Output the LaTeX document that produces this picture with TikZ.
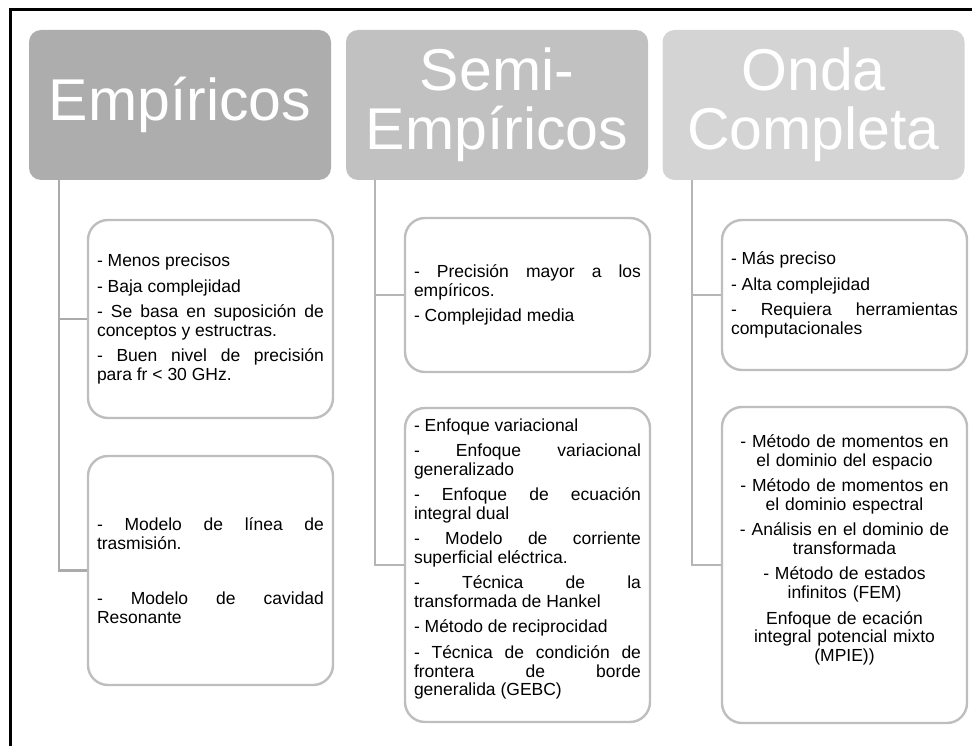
\documentclass[tikz,border=0pt]{standalone}
\usepackage{fontspec}
\setmainfont{Liberation Sans}
\definecolor{hA}{HTML}{ADADAD}
\definecolor{hB}{HTML}{C1C1C1}
\definecolor{hC}{HTML}{D4D4D4}
\definecolor{lnA}{HTML}{ABABAB}
\definecolor{lnB}{HTML}{B5B5B5}
\definecolor{lnC}{HTML}{B5B5B5}
\definecolor{bxline}{HTML}{BEBEBE}
\begin{document}
\begin{tikzpicture}[x=1pt,y=-1pt,
  hdr/.style={rounded corners=12pt, minimum width=302pt, minimum height=150pt,
    inner sep=0pt, text=white, align=center, font=\fontsize{59}{59}\selectfont},
  infobox/.style={draw=bxline, line width=2.4pt, fill=white, rounded corners=20pt,
    minimum width=245pt, inner sep=0pt},
  txt/.style={text width=227pt, inner sep=0pt, text=black,
    font=\fontsize{17.5}{18.8}\selectfont,
    execute at begin node={\setlength{\parskip}{6.5pt}\setlength{\parindent}{0pt}\hyphenpenalty=10000 }},
  jtxt/.style={txt, align=justify},
  ctxt/.style={txt, align=center},
  conn/.style={line width=2.4pt}
]
\useasboundingbox (0,0) rectangle (972,746);
\draw[line width=3pt] (10,746) -- (10,10) -- (972,10);

% headers
\node[hdr, fill=hA] (h1) at (180,105) {Empíricos};
\node[hdr, fill=hB] (h2) at (497,105) {Semi-\\Empíricos};
\node[hdr, fill=hC] (h3) at (813.5,105) {Onda\\Completa};

% column 1 boxes
\node[infobox, minimum height=198pt] (e1) at (210.5,319) {};
\node[jtxt] (e1t) at (e1.center) {- Menos precisos\par - Baja complejidad\par - Se basa en suposición de\linebreak conceptos y estructras.\par - Buen nivel de precisión\linebreak para fr < 30 GHz.};
\node[infobox, minimum height=229pt] (e2) at (210.5,570.5) {};
\node[jtxt] (e2t) at (e2.center) {- Modelo de línea de\linebreak trasmisión.\par\vspace{30pt}- Modelo de cavidad\linebreak Resonante};

% column 2 boxes
\node[infobox, minimum height=154pt] (s1) at (527.5,295) {};
\node[jtxt] (s1t) at (s1.center) {- Precisión mayor a los\linebreak empíricos.\par - Complejidad media};
\node[infobox, minimum height=314pt] (s2) at (527.5,565) {};
\node[jtxt] (s2t) at (527.5,559) {- Enfoque variacional\par - Enfoque variacional\linebreak generalizado\par - Enfoque de ecuación\linebreak integral dual\par - Modelo de corriente\linebreak superficial eléctrica.\par - Técnica de la\linebreak transformada de Hankel\par - Método de reciprocidad\par - Técnica de condición de\linebreak frontera de borde\linebreak generalida (GEBC)};

% column 3 boxes
\node[infobox, minimum height=150pt] (o1) at (844.5,295) {};
\node[jtxt] (o1t) at (o1.center) {- Más preciso\par - Alta complejidad\par - Requiera herramientas\linebreak computacionales};
\node[infobox, minimum height=316pt] (o2) at (844.5,565) {};
\node[ctxt] (o2t) at (844.5,550) {- Método de momentos en\\el dominio del espacio\par - Método de momentos en\\el dominio espectral\par - Análisis en el dominio de\\transformada\par - Método de estados\\infinitos (FEM)\par Enfoque de ecación\\integral potencial mixto\\(MPIE))};

% connectors
\coordinate (c1) at (59,180);
\coordinate (c2) at (375,180);
\coordinate (c3) at (692,180);
\draw[conn, draw=lnA] (c1) |- (e2.west);
\draw[conn, draw=lnA] (c1 |- e1.west) -- (e1.west);
\draw[conn, draw=lnB] (c2) |- (s2.west);
\draw[conn, draw=lnB] (c2 |- s1.west) -- (s1.west);
\draw[conn, draw=lnC] (c3) |- (o2.west);
\draw[conn, draw=lnC] (c3 |- o1.west) -- (o1.west);
\end{tikzpicture}
\end{document}
